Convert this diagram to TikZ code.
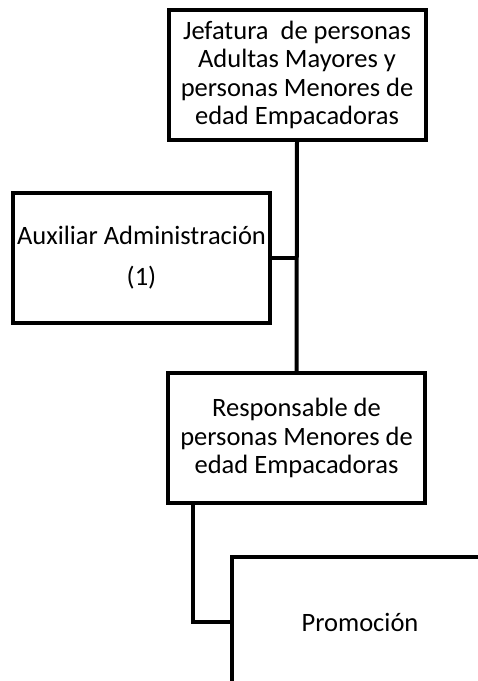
\documentclass[tikz,border=0pt]{standalone}
\usepackage{fontspec}
\setmainfont{Carlito}
\usetikzlibrary{positioning,calc}

\tikzset{
  puesto/.style={draw, line width=4pt, inner sep=0pt, align=center,
    font=\fontsize{26.5}{28.6}\selectfont, minimum width=257pt, minimum height=130pt},
  enlace/.style={line width=4pt}
}

\begin{document}
\begin{tikzpicture}[x=1pt,y=-1pt]

\useasboundingbox (0,0) rectangle (478,681);
\clip (0,0) rectangle (478,681);

% ===== Puestos =====
\node[puesto] (jefatura) at (297,75)
  {Jefatura~ de personas\\Adultas Mayores y\\personas Menores de\\edad Empacadoras};

\node[puesto] (auxiliar) at (141.5,257.5)
  {Auxiliar Administración\\[13pt](1)};

\node[puesto] (responsable) at (296.5,438)
  {Responsable de\\personas Menores de\\edad Empacadoras};

\node[puesto, minimum width=256pt] (promocion) at (360,622) {Promoción};

% ===== Enlaces =====
\draw[enlace] (jefatura.south) -- (responsable.north);
\draw[enlace] (auxiliar.east) -- (auxiliar.east -| responsable.north);

\coordinate (bajada) at ($(responsable.south west)+(27,0)$);
\draw[enlace] (bajada) |- (promocion.west);

\end{tikzpicture}
\end{document}
